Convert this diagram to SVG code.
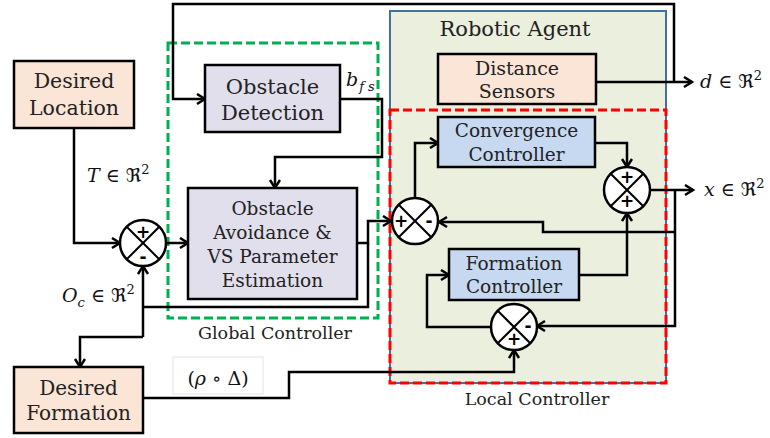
<svg xmlns="http://www.w3.org/2000/svg" width="770" height="438" viewBox="0 0 770 438">
  <style>
    .box { stroke: #000; stroke-width: 2.5; }
    .peach { fill: #fbe5d6; }
    .lav { fill: #e2dfec; }
    .blue { fill: #c6d9f1; }
    .lbl { font-family: "DejaVu Serif", "Liberation Serif", serif; fill: #222; text-anchor: middle; }
    .math { font-family: "DejaVu Serif", "DejaVu Sans", serif; font-style: italic; fill: #111; font-size: 19px; }
    .up { font-style: normal; }
    .sup { font-style: normal; font-size: 13px; }
    .sub { font-size: 13px; }
    .wire { fill: none; stroke: #000; stroke-width: 2.5; stroke-linejoin: miter; }
    .arr { marker-end: url(#head); }
    .sum circle { fill: #fff; stroke: #000; stroke-width: 2.5; }
    .sum line { stroke: #000; stroke-width: 2; }
    .sign { font-family: "DejaVu Sans", sans-serif; font-weight: bold; font-size: 17px; text-anchor: middle; fill: #000; }
  </style>
  <defs>
    <marker id="head" markerUnits="userSpaceOnUse" markerWidth="14" markerHeight="14" refX="9" refY="6" orient="auto">
      <path d="M1,1 L9,6 L1,11" fill="none" stroke="#000" stroke-width="2.5"/>
    </marker>
  </defs>

  <!-- agent and controller frames -->
  <g id="robotic-agent">
    <rect x="390" y="11" width="276" height="372" fill="#ebefdd" stroke="#41719c" stroke-width="2"/>
    <text class="lbl" x="515" y="36" font-size="21">Robotic Agent</text>
  </g>
  <g id="local-controller">
    <rect x="390" y="110" width="276" height="273" fill="none" stroke="#ff0000" stroke-width="3" stroke-dasharray="9 4"/>
    <text class="lbl" x="537" y="405" font-size="17.5">Local Controller</text>
  </g>
  <g id="global-controller">
    <rect x="168" y="43" width="210" height="275" fill="none" stroke="#00b050" stroke-width="3" stroke-dasharray="9 4"/>
    <text class="lbl" x="275" y="339" font-size="17.5">Global Controller</text>
  </g>

  <!-- connectors -->
  <g id="connectors">
    <path class="wire arr" d="M74,128 V243 H120"/>
    <path class="wire arr" d="M166,243 H188"/>
    <path class="wire arr" d="M596,82 H692"/>
    <path class="wire arr" d="M674,82 V4 H173 V99 H205"/>
    <path class="wire arr" d="M340,99 H382 V157 H275 V188"/>
    <path class="wire arr" d="M357,243 H368 V221 H391"/>
    <path class="wire" d="M368,243 V307 H143"/>
    <path class="wire arr" d="M143,337 V266"/>
    <path class="wire arr" d="M143,337 H80 V367"/>
    <path class="wire arr" d="M415,198 V143 H438"/>
    <path class="wire arr" d="M595,143 H627 V167"/>
    <path class="wire arr" d="M579,275 H627 V213"/>
    <path class="wire arr" d="M650,190 H693"/>
    <path class="wire arr" d="M675,190 V326 H537"/>
    <path class="wire arr" d="M675,232 H543 V222 H439"/>
    <path class="wire arr" d="M491,327 H427 V275 H449"/>
    <path class="wire arr" d="M143,398 H289 V372 H514 V350"/>
  </g>

  <!-- blocks -->
  <g id="desired-location">
    <rect class="box peach" x="14" y="61" width="120" height="67"/>
    <text class="lbl" x="74" y="88" font-size="20.5">Desired</text>
    <text class="lbl" x="74" y="115" font-size="20.5">Location</text>
  </g>
  <g id="obstacle-detection">
    <rect class="box lav" x="205" y="65" width="135" height="67"/>
    <text class="lbl" x="272.5" y="94" font-size="21">Obstacle</text>
    <text class="lbl" x="272.5" y="120" font-size="21">Detection</text>
  </g>
  <g id="obstacle-avoidance">
    <rect class="box lav" x="188" y="188" width="169" height="111"/>
    <text class="lbl" x="272.5" y="215" font-size="18.5">Obstacle</text>
    <text class="lbl" x="272.5" y="239" font-size="18.5">Avoidance &amp;</text>
    <text class="lbl" x="272.5" y="263" font-size="18.5">VS Parameter</text>
    <text class="lbl" x="272.5" y="287" font-size="18.5">Estimation</text>
  </g>
  <g id="distance-sensors">
    <rect class="box peach" x="438" y="54" width="158" height="50"/>
    <text class="lbl" x="517" y="75" font-size="19">Distance</text>
    <text class="lbl" x="517" y="98" font-size="19">Sensors</text>
  </g>
  <g id="convergence-controller">
    <rect class="box blue" x="438" y="117" width="157" height="50"/>
    <text class="lbl" x="516.5" y="137" font-size="18.5">Convergence</text>
    <text class="lbl" x="516.5" y="161" font-size="18.5">Controller</text>
  </g>
  <g id="formation-controller">
    <rect class="box blue" x="449" y="249" width="130" height="51"/>
    <text class="lbl" x="514" y="270" font-size="18.5">Formation</text>
    <text class="lbl" x="514" y="293" font-size="18.5">Controller</text>
  </g>
  <g id="desired-formation">
    <rect class="box peach" x="14" y="367" width="129" height="66"/>
    <text class="lbl" x="78.5" y="395" font-size="20">Desired</text>
    <text class="lbl" x="78.5" y="420" font-size="20">Formation</text>
  </g>

  <!-- summing junctions -->
  <g id="sum-global" class="sum">
    <circle cx="143" cy="243" r="23"/>
    <line x1="126.7" y1="226.7" x2="159.3" y2="259.3"/>
    <line x1="159.3" y1="226.7" x2="126.7" y2="259.3"/>
    <text class="sign" x="143" y="238">+</text>
    <text class="sign" x="143" y="263">-</text>
  </g>
  <g id="sum-local" class="sum">
    <circle cx="415" cy="221" r="23"/>
    <line x1="398.7" y1="204.7" x2="431.3" y2="237.3"/>
    <line x1="431.3" y1="204.7" x2="398.7" y2="237.3"/>
    <text class="sign" x="401" y="227">+</text>
    <text class="sign" x="429" y="227">-</text>
  </g>
  <g id="sum-output" class="sum">
    <circle cx="627" cy="190" r="23"/>
    <line x1="610.7" y1="173.7" x2="643.3" y2="206.3"/>
    <line x1="643.3" y1="173.7" x2="610.7" y2="206.3"/>
    <text class="sign" x="627" y="183">+</text>
    <text class="sign" x="627" y="207">+</text>
  </g>
  <g id="sum-formation" class="sum">
    <circle cx="514" cy="327" r="23"/>
    <line x1="497.7" y1="310.7" x2="530.3" y2="343.3"/>
    <line x1="530.3" y1="310.7" x2="497.7" y2="343.3"/>
    <text class="sign" x="528" y="332">-</text>
    <text class="sign" x="514" y="345">+</text>
  </g>

  <!-- signal labels -->
  <g id="signal-labels">
    <text class="math" x="87" y="182">T ∈ <tspan class="up">ℜ</tspan><tspan class="sup" dy="-8">2</tspan></text>
    <text class="math" x="62" y="302">O<tspan class="sub" dy="5">c</tspan><tspan dy="-5"> ∈ </tspan><tspan class="up">ℜ</tspan><tspan class="sup" dy="-8">2</tspan></text>
    <text class="math" x="346" y="86">b<tspan class="sub" dx="1" dy="5">f s</tspan></text>
    <text class="math" x="700" y="88">d ∈ <tspan class="up">ℜ</tspan><tspan class="sup" dy="-8">2</tspan></text>
    <text class="math" x="704" y="196">x ∈ <tspan class="up">ℜ</tspan><tspan class="sup" dy="-8">2</tspan></text>
    <rect x="173" y="357" width="90" height="37" fill="#fff" stroke="#e4e4e4" stroke-width="1"/>
    <text class="math up" x="218" y="385" text-anchor="middle">(<tspan style="font-style:italic">ρ</tspan> ∘ Δ)</text>
  </g>
</svg>
